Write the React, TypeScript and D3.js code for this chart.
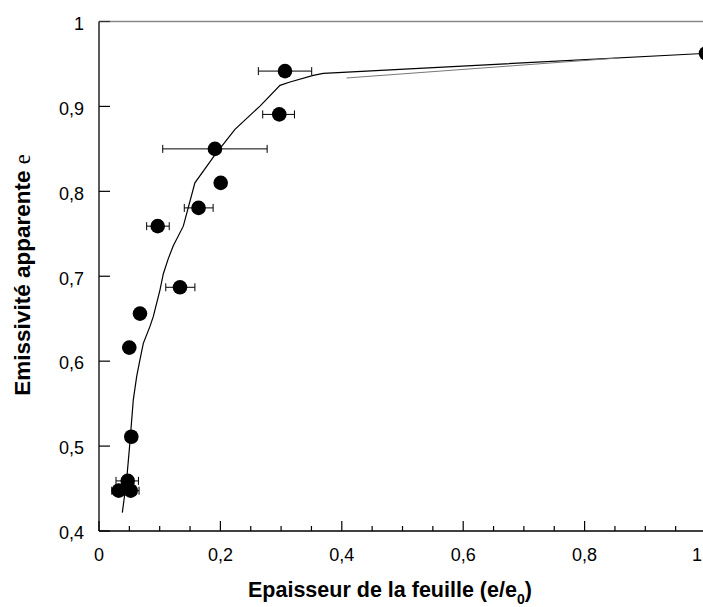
import React from "react";
import * as d3 from "d3";

const pointX = [0.0325, 0.0522, 0.0473, 0.0532, 0.0499, 0.0675, 0.0967, 0.1334, 0.164, 0.191, 0.2005, 0.297, 0.3064, 1.0];
const pointY = [0.4475, 0.4475, 0.459, 0.511, 0.616, 0.656, 0.759, 0.687, 0.7805, 0.85, 0.81, 0.8906, 0.9416, 0.9625];
const errLow: (number | null)[] = [0.021, 0.040, 0.028, null, null, 0.061, 0.0785, 0.110, 0.1405, 0.105, null, 0.2697, 0.2625, null];
const errHigh: (number | null)[] = [0.045, 0.066, 0.065, null, null, 0.074, 0.1157, 0.158, 0.188, 0.277, null, 0.322, 0.3504, null];

const curveX = [0.0384, 0.0455, 0.0499, 0.0539, 0.0565, 0.0621, 0.0675, 0.073, 0.084, 0.0895, 0.1005, 0.106, 0.114, 0.1224, 0.1389, 0.158, 0.191, 0.224, 0.2652, 0.2982, 0.3147, 0.353, 0.3695, 1.0];
const curveY = [0.4216, 0.46, 0.4955, 0.531, 0.5545, 0.582, 0.6017, 0.621, 0.641, 0.6527, 0.684, 0.703, 0.7205, 0.736, 0.759, 0.81, 0.843, 0.873, 0.9004, 0.9248, 0.9287, 0.9366, 0.939, 0.9625];
const ghostX = [0.408, 0.8555];
const ghostY = [0.9335, 0.957];

const xMajor = [0, 0.2, 0.4, 0.6, 0.8, 1];
const xMajorLabels = ["0", "0,2", "0,4", "0,6", "0,8", "1"];
const yMajor = [0.4, 0.5, 0.6, 0.7, 0.8, 0.9, 1];
const yMajorLabels = ["0,4", "0,5", "0,6", "0,7", "0,8", "0,9", "1"];

export default function App() {
  const W = 703, H = 607;
  const x = d3.scaleLinear().domain([0, 1]).range([99, 706]);
  const y = d3.scaleLinear().domain([0.4, 1]).range([531, 21.5]);
  const font = "Liberation Sans, Arial, sans-serif";
  const xMinor = d3.range(0, 1.0001, 0.05).filter((v) => !xMajor.some((m) => Math.abs(m - v) < 1e-6));

  const line = d3.line<number>().x((_, i) => x(curveX[i])).y((_, i) => y(curveY[i]));
  const ghost = d3.line<number>().x((_, i) => x(ghostX[i])).y((_, i) => y(ghostY[i]));

  return (
    <svg width={W} height={H} style={{ position: "absolute", left: 0, top: 0, background: "#fff" }}>
      <rect x={0} y={0} width={W} height={H} fill="#fff" />
      {/* frame */}
      <line x1={x(0)} y1={y(1)} x2={W + 5} y2={y(1)} stroke="#888" strokeWidth={1.5} />
      <line x1={x(0)} y1={y(0.4)} x2={x(0)} y2={y(1)} stroke="#000" strokeWidth={1.3} />
      <line x1={x(0)} y1={y(0.4)} x2={W + 5} y2={y(0.4)} stroke="#000" strokeWidth={1.3} />
      {/* y ticks */}
      {yMajor.map((v, i) => (
        <g key={"y" + i}>
          <line x1={x(0)} x2={x(0) + 11} y1={y(v)} y2={y(v)} stroke={v === 1 ? "#333" : "#000"} strokeWidth={1.2} />
          <text x={84} y={y(v) + 2} dy="0.35em" textAnchor="end" fontFamily={font} fontSize={18}>{yMajorLabels[i]}</text>
        </g>
      ))}
      {/* x ticks */}
      {xMajor.map((v, i) => (
        <g key={"x" + i}>
          <line x1={x(v)} x2={x(v)} y1={y(0.4)} y2={y(0.4) - 10} stroke="#000" strokeWidth={1.2} />
          <text x={Math.min(x(v), 697)} y={560.5} textAnchor="middle" fontFamily={font} fontSize={18}>{xMajorLabels[i]}</text>
        </g>
      ))}
      {xMinor.map((v, i) => (
        <line key={"xm" + i} x1={x(v)} x2={x(v)} y1={y(0.4)} y2={y(0.4) - 5} stroke="#000" strokeWidth={1.2} />
      ))}
      {/* curve */}
      <path d={line(curveX) || ""} fill="none" stroke="#000" strokeWidth={1.2} />
      <path d={ghost(ghostX) || ""} fill="none" stroke="#777" strokeWidth={1} />
      {/* error bars */}
      {pointX.map((px, i) =>
        errLow[i] != null ? (
          <g key={"e" + i} stroke="#000" strokeWidth={1}>
            <line x1={x(errLow[i] as number)} x2={x(errHigh[i] as number)} y1={y(pointY[i])} y2={y(pointY[i])} />
            <line x1={x(errLow[i] as number)} x2={x(errLow[i] as number)} y1={y(pointY[i]) - 4} y2={y(pointY[i]) + 4} />
            <line x1={x(errHigh[i] as number)} x2={x(errHigh[i] as number)} y1={y(pointY[i]) - 4} y2={y(pointY[i]) + 4} />
          </g>
        ) : null
      )}
      {/* points */}
      {pointX.map((px, i) => (
        <circle key={"p" + i} cx={x(px)} cy={y(pointY[i])} r={7.3} fill="#000" />
      ))}
      {/* axis titles */}
      <text x={248} y={596.5} textAnchor="start" fontFamily={font} fontSize={21.5} fontWeight="bold">
        Epaisseur de la feuille (e/e<tspan dy={7} fontSize={14}>0</tspan><tspan dy={-7}>)</tspan>
      </text>
      <text transform={`translate(30,${275}) rotate(-90)`} textAnchor="middle" fontFamily={font} fontSize={22.5} fontWeight="bold">
        Emissivité apparente <tspan fontFamily="Liberation Serif, Times New Roman, serif" fontWeight="normal">e</tspan>
      </text>
    </svg>
  );
}
